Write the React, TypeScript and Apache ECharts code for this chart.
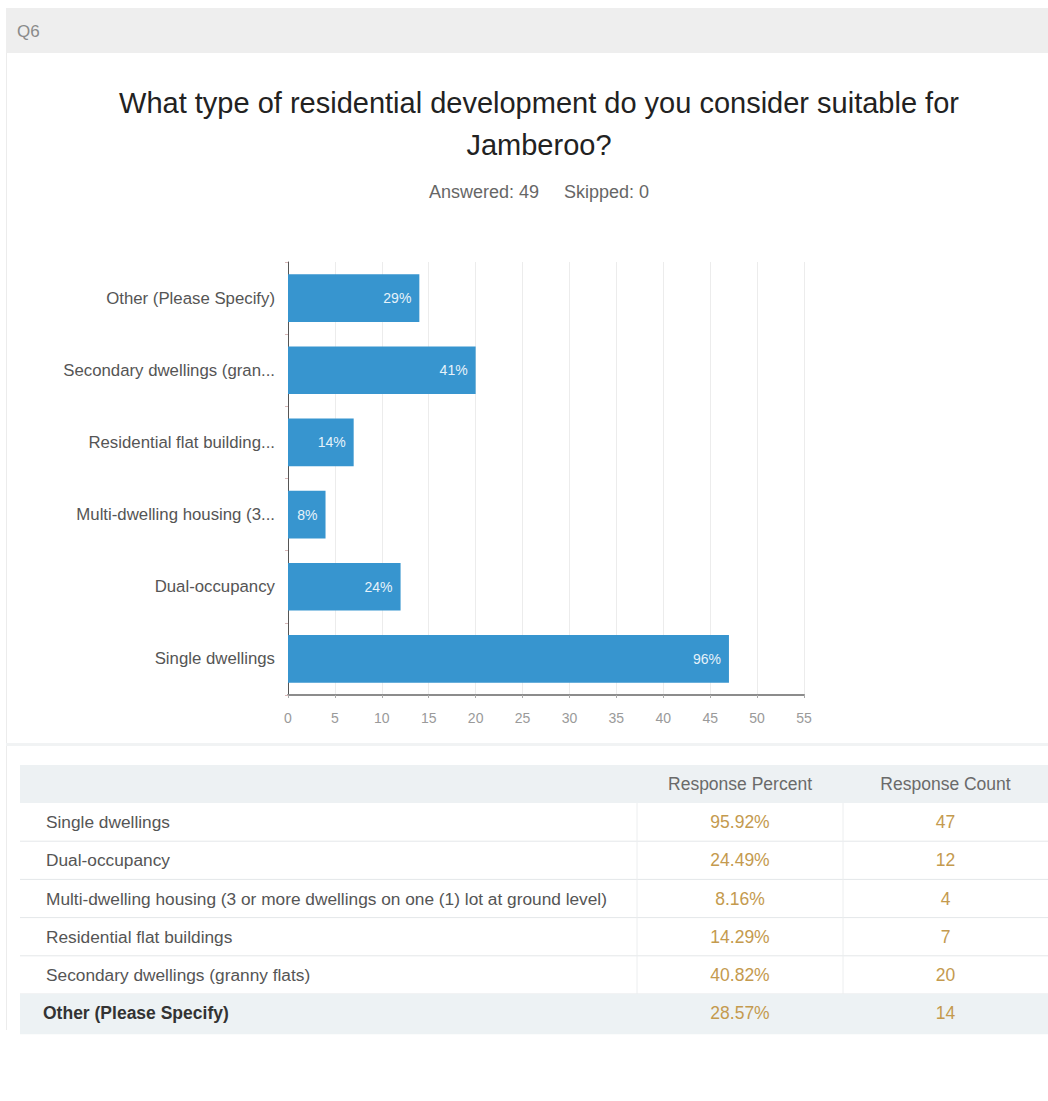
import React, { useEffect, useRef } from "react";
import * as echarts from "echarts";

const questionId = "Q6";
const titleText = "What type of residential development do you consider suitable for\nJamberoo?";
const subtitleText = "Answered: 49     Skipped: 0";
const fullNames = [
  "Single dwellings",
  "Dual-occupancy",
  "Multi-dwelling housing (3 or more dwellings on one (1) lot at ground level)",
  "Residential flat buildings",
  "Secondary dwellings (granny flats)",
  "Other (Please Specify)",
];
const axisLabels = [
  "Single dwellings",
  "Dual-occupancy",
  "Multi-dwelling housing (3...",
  "Residential flat building...",
  "Secondary dwellings (gran...",
  "Other (Please Specify)",
];
const counts = [47, 12, 4, 7, 20, 14];
const percents = [95.92, 24.49, 8.16, 14.29, 40.82, 28.57];
const tableHeaders = ["Response Percent", "Response Count"];
const xMin = 0;
const xMax = 55;
const xInterval = 5;

const FONT = "'Liberation Sans', Arial, Helvetica, sans-serif";

export default function App() {
  const ref = useRef<HTMLDivElement>(null);
  useEffect(() => {
    if (!ref.current) return;
    const chart = echarts.init(ref.current, null, { renderer: "svg" });

    const tableTop = 765;
    const headerH = 38;
    const rowH = 38.2;
    const col1 = 637;
    const col2 = 843;
    const tableLeft = 20;
    const tableRight = 1048;
    const rowsTop = tableTop + headerH;

    const graphics: any[] = [
      { type: "rect", shape: { x: 6, y: 8, width: 1042, height: 45 }, style: { fill: "#eeeeee" }, silent: true },
      { type: "text", x: 17, y: 31, style: { text: questionId, fill: "#8a8a8a", fontSize: 17, fontFamily: FONT, verticalAlign: "middle" } },
      { type: "line", shape: { x1: 6.5, y1: 53, x2: 6.5, y2: 1030 }, style: { stroke: "#ececec", lineWidth: 1 } },
      { type: "rect", shape: { x: 6, y: 743, width: 1042, height: 3 }, style: { fill: "#f1f3f4" } },
      { type: "rect", shape: { x: tableLeft, y: tableTop, width: tableRight - tableLeft, height: headerH }, style: { fill: "#edf1f3" } },
      { type: "text", x: (col1 + col2) / 2, y: tableTop + headerH / 2, style: { text: tableHeaders[0], fill: "#6a6a6a", fontSize: 17.5, fontFamily: FONT, align: "center", verticalAlign: "middle" } },
      { type: "text", x: (col2 + tableRight) / 2, y: tableTop + headerH / 2, style: { text: tableHeaders[1], fill: "#6a6a6a", fontSize: 17.5, fontFamily: FONT, align: "center", verticalAlign: "middle" } },
    ];

    fullNames.forEach((name, i) => {
      const y0 = rowsTop + rowH * i;
      const last = i === fullNames.length - 1;
      if (last) {
        graphics.push({ type: "rect", shape: { x: tableLeft, y: y0, width: tableRight - tableLeft, height: rowH + 2 }, style: { fill: "#edf2f4" } });
      } else {
        graphics.push({ type: "line", shape: { x1: tableLeft, y1: y0 + rowH, x2: tableRight, y2: y0 + rowH }, style: { stroke: "#e4e7e9", lineWidth: 1 } });
        graphics.push({ type: "line", shape: { x1: col1, y1: y0, x2: col1, y2: y0 + rowH }, style: { stroke: "#eceeef", lineWidth: 1 } });
        graphics.push({ type: "line", shape: { x1: col2, y1: y0, x2: col2, y2: y0 + rowH }, style: { stroke: "#eceeef", lineWidth: 1 } });
      }
      const cy = y0 + rowH / 2;
      graphics.push({ type: "text", x: last ? 43 : 46, y: cy, style: { text: name, fill: last ? "#333333" : "#555555", fontSize: last ? 17.5 : 17.3, fontWeight: last ? "bold" : "normal", fontFamily: FONT, verticalAlign: "middle" } });
      graphics.push({ type: "text", x: (col1 + col2) / 2, y: cy, style: { text: percents[i].toFixed(2) + "%", fill: "#c49a4e", fontSize: 17.5, fontFamily: FONT, align: "center", verticalAlign: "middle" } });
      graphics.push({ type: "text", x: (col2 + tableRight) / 2, y: cy, style: { text: String(counts[i]), fill: "#c49a4e", fontSize: 17.5, fontFamily: FONT, align: "center", verticalAlign: "middle" } });
    });

    chart.setOption({
      animation: false,
      backgroundColor: "#ffffff",
      title: [
        {
          text: titleText,
          left: 534,
          top: 77,
          textAlign: "center",
          textStyle: { fontSize: 29, fontWeight: "normal", color: "#222222", fontFamily: FONT, lineHeight: 42 },
        },
        {
          text: subtitleText,
          left: 534,
          top: 178,
          textAlign: "center",
          textStyle: { fontSize: 18, fontWeight: "normal", color: "#666666", fontFamily: FONT },
        },
      ],
      grid: { left: 288, right: 244, top: 262, bottom: 406, containLabel: false },
      xAxis: {
        type: "value",
        min: xMin,
        max: xMax,
        interval: xInterval,
        axisLine: { show: true, lineStyle: { color: "#8c8c8c", width: 2 } },
        axisTick: { show: true, length: 3, lineStyle: { color: "#aaaaaa" } },
        axisLabel: { color: "#9a9a9a", fontSize: 14, fontFamily: FONT, margin: 16 },
        splitLine: { show: true, lineStyle: { color: "#ececec", width: 1 } },
      },
      yAxis: {
        type: "category",
        data: axisLabels,
        axisLine: { show: true, lineStyle: { color: "#555555", width: 1 } },
        axisTick: { show: true, length: 3, lineStyle: { color: "#d9b8b8" } },
        axisLabel: { color: "#555555", fontSize: 16.8, fontFamily: FONT, margin: 13 },
        splitLine: { show: false },
      },
      series: [
        {
          type: "bar",
          data: counts,
          barWidth: "66%",
          itemStyle: { color: "#3795cf" },
          label: {
            show: true,
            position: "insideRight",
            distance: 8,
            color: "#e6f2fa",
            fontSize: 14,
            fontFamily: FONT,
            formatter: (p: any) => Math.round(percents[p.dataIndex]) + "%",
          },
        },
      ],
      graphic: graphics,
    });
    return () => chart.dispose();
  }, []);
  return (
    <div
      ref={ref}
      style={{ position: "absolute", left: 0, top: 0, width: 1048, height: 1101 }}
    />
  );
}
